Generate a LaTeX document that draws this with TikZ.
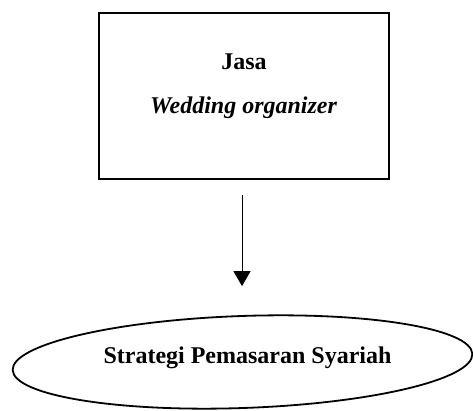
\documentclass[tikz,border=0pt]{standalone}
\usepackage{fontspec}
\setmainfont{Liberation Serif}
\usetikzlibrary{shapes.geometric, arrows.meta}

\begin{document}
\begin{tikzpicture}[x=1pt, y=1pt,
    kotak/.style={rectangle, draw, line width=1.8pt, minimum width=290pt, minimum height=166pt},
    elips/.style={ellipse, draw, line width=1.8pt, minimum width=460pt, minimum height=92pt},
    teks/.style={font=\fontsize{24}{28}\selectfont\bfseries}]
  \useasboundingbox (0, 0) rectangle (473, 411);
  \node (jasa) [kotak] at (244, 315) {};
  \node (judul) [teks] at (244, 349) {Jasa};
  \node (wo) [teks, font=\fontsize{24}{28}\selectfont\bfseries\itshape] at (243.5, 303) {Wedding organizer};
  \node (strategi) [elips, rotate=2] at (242.5, 49) {};
  \node (isi) [teks] at (247.5, 53) {Strategi Pemasaran Syariah};
  \draw [-{Triangle[width=17pt, length=15pt]}, line width=0.9pt, shorten <=15pt, shorten >=29pt]
    (jasa.south -| 242, 0) -- (strategi.north -| 242, 0);
\end{tikzpicture}
\end{document}
